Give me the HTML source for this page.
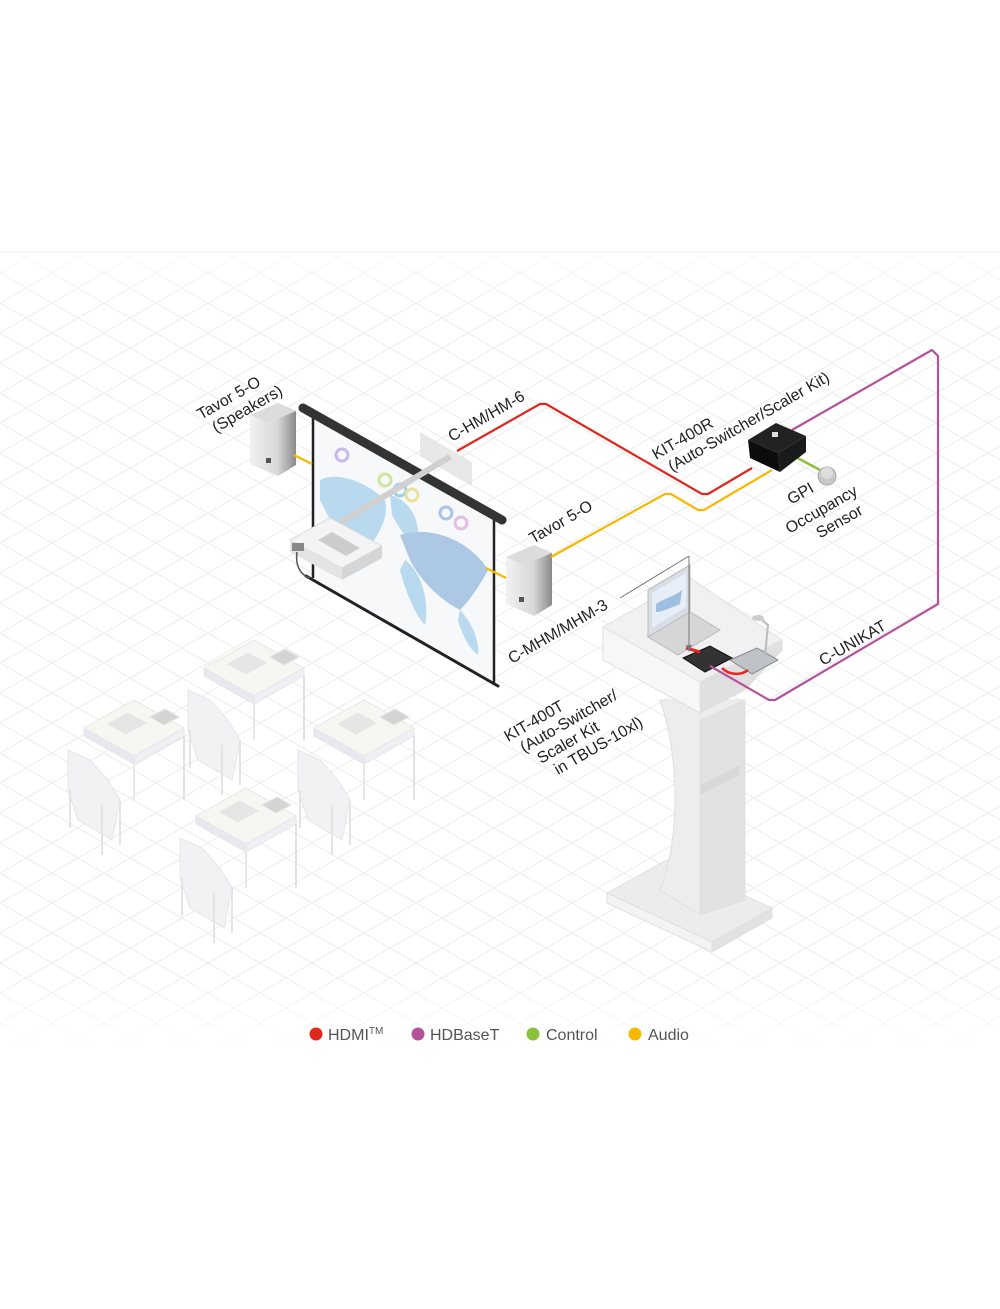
<!DOCTYPE html>
<html><head><meta charset="utf-8"><style>
html,body{margin:0;padding:0;background:#fff;}
svg{display:block;font-family:"Liberation Sans","DejaVu Sans",sans-serif;}
.lb{font-size:16px;fill:#222;}
</style></head><body>
<svg width="1000" height="1309" viewBox="0 0 1000 1309" xmlns="http://www.w3.org/2000/svg">
<defs>
<pattern id="g" patternUnits="userSpaceOnUse" width="52" height="30" x="0" y="3">
<path d="M0 0 L52 30 M0 30 L52 0" stroke="#ececec" stroke-width="1" fill="none"/>
</pattern>
<linearGradient id="fv" x1="0" y1="0" x2="0" y2="1">
<stop offset="0" stop-color="#fff" stop-opacity="0.3"/>
<stop offset="0.08" stop-color="#fff" stop-opacity="1"/>
<stop offset="0.88" stop-color="#fff" stop-opacity="1"/>
<stop offset="1" stop-color="#fff" stop-opacity="0"/>
</linearGradient>
<mask id="m"><rect x="0" y="252" width="1000" height="808" fill="url(#fv)"/></mask>
<linearGradient id="spk" x1="0" y1="0" x2="1" y2="0">
<stop offset="0" stop-color="#f2f2f2"/><stop offset="0.6" stop-color="#d8d8d8"/><stop offset="1" stop-color="#8a8a8a"/>
</linearGradient>
</defs>
<rect x="0" y="252" width="1000" height="808" fill="url(#g)" mask="url(#m)"/>
<line x1="0" y1="252" x2="1000" y2="252" stroke="#f0f0f0"/>

<!-- desks (very light) -->
<g fill="#f6f6f3" stroke="#e6e6e6" stroke-width="1">
<g id="desk">
<polygon points="204,668 254,640 304,668 254,696"/>
<polygon points="204,668 254,696 254,704 204,676" fill="#e8e8f0"/>
<polygon points="254,696 304,668 304,676 254,704" fill="#efeff4"/>
<polygon points="228,664 248,653 266,663 246,674" fill="#e6e6e6"/>
<polygon points="270,657 285,649 299,657 284,665" fill="#d4d4d4"/>
<line x1="304" y1="676" x2="304" y2="740" stroke="#e2e2e2" stroke-width="2"/>
<line x1="254" y1="704" x2="254" y2="740" stroke="#e8e8e8" stroke-width="2"/>
<path d="M188 690 L210 700 L228 720 L240 740 L232 780 L198 760 L188 730 Z" fill="#f2f2f4"/>
<line x1="190" y1="730" x2="190" y2="768" stroke="#e4e4e4" stroke-width="2"/>
<line x1="222" y1="745" x2="222" y2="795" stroke="#e4e4e4" stroke-width="2"/>
<line x1="240" y1="740" x2="240" y2="785" stroke="#e4e4e4" stroke-width="2"/>
</g>
<use href="#desk" x="-120" y="60"/>
<use href="#desk" x="110" y="60"/>
<use href="#desk" x="-8" y="148"/>
</g>

<!-- screen -->
<polygon points="313,413 494,520 494,685 313,578" fill="#f7f8fa"/>
<g fill="#aed4ec" opacity="0.85">
<path d="M320 480 C340 470 370 485 385 500 C390 520 375 540 360 560 C345 550 330 520 320 500 Z"/>
<path d="M390 495 C410 500 420 520 418 540 C410 545 400 530 392 515 Z"/>
<path d="M400 535 C430 525 470 540 488 570 C480 585 470 600 460 610 C440 600 420 580 410 560 Z" fill="#9fc0e2"/>
<path d="M405 560 C420 570 430 600 425 625 C415 615 405 590 400 570 Z"/>
<path d="M460 610 C470 620 480 640 478 655 C470 650 462 635 458 620 Z"/>
</g>
<g fill="none" stroke-width="3">
<circle cx="342" cy="455" r="6" stroke="#c9b9ea"/>
<circle cx="385" cy="480" r="6" stroke="#cfe5a0"/>
<circle cx="400" cy="490" r="6" stroke="#9fd0e6"/>
<circle cx="412" cy="495" r="6" stroke="#e6e2a0"/>
<circle cx="446" cy="513" r="6" stroke="#a9c4ec"/>
<circle cx="461" cy="523" r="6" stroke="#e2c0e6"/>
</g>
<path d="M313 413 L313 578 M494 520 L494 685" stroke="#222" stroke-width="2.5"/>
<line x1="303" y1="408" x2="502" y2="520" stroke="#333" stroke-width="9" stroke-linecap="round"/>
<line x1="306" y1="576" x2="498" y2="686" stroke="#222" stroke-width="3" stroke-linecap="round"/>
<polygon points="420,432 472,462 472,486 420,456" fill="#e6e6e6" opacity="0.9"/>
<line x1="328" y1="530" x2="448" y2="458" stroke="#d0d0d0" stroke-width="6" stroke-linecap="round"/>
<polygon points="290,540 330,518 382,546 342,568" fill="#f4f4f4" stroke="#ddd"/>
<polygon points="290,540 342,568 342,580 290,552" fill="#e4e4e4"/>
<polygon points="342,568 382,546 382,558 342,580" fill="#d6d6d6"/>
<polygon points="318,540 332,532 360,548 346,556" fill="#ccc"/>
<rect x="292" y="543" width="12" height="8" fill="#888"/>
<path d="M297 552 C295 565 300 575 310 578" stroke="#555" fill="none" stroke-width="1.5"/>
<polygon points="250,415 278,403 296,411 296,465 278,476 250,464" fill="url(#spk)"/>
<polygon points="250,415 278,403 296,411 268,423" fill="#dcdcdc"/>
<polygon points="506,557 534,545 552,553 552,605 534,616 506,604" fill="url(#spk)"/>
<polygon points="506,557 534,545 552,553 524,565" fill="#dcdcdc"/>
<rect x="266" y="458" width="5" height="5" fill="#555"/><rect x="519" y="597" width="5" height="5" fill="#555"/>

<!-- lectern -->
<g stroke="#e0e0e0" stroke-width="1">
<polygon points="607,893 667,860 772,908 712,942" fill="#ececec"/>
<polygon points="607,893 712,942 712,952 607,903" fill="#f3f3f3"/>
<polygon points="712,942 772,908 772,918 712,952" fill="#e2e2e2"/>
<path d="M660 700 C680 760 680 840 660 890 L700 915 C700 860 705 780 745 720 L745 700 Z" fill="#ededed"/>
<path d="M700 720 L745 700 L745 900 L700 915 Z" fill="#e2e2e2"/>
<polygon points="700,785 740,765 740,775 700,795" fill="#d8d8d8"/>
<polygon points="603,627 690,578 782,640 700,682" fill="#f1f1f1"/>
<polygon points="603,627 700,682 700,713 603,660" fill="#f7f7f7"/>
<polygon points="700,682 782,640 782,650 745,690 700,713" fill="#e0e0e0"/>
</g>
<polygon points="648,590 690,565 690,612 648,637" fill="#d8dde6" stroke="#bbb"/>
<polygon points="652,593 686,573 686,607 652,628" fill="#e7eef7"/>
<path d="M656 604 C665 598 675 596 682 590 L680 604 C670 608 662 612 656 612Z" fill="#9cc0e2"/>
<polygon points="648,637 690,612 720,630 678,655" fill="#d6d6d6" stroke="#bbb"/>
<polygon points="683,658 710,646 732,658 705,672" fill="#333" stroke="#111"/>
<polygon points="730,660 757,648 778,660 752,674" fill="#bfc3c8" stroke="#888"/>
<path d="M765 655 L768 625 L760 618" stroke="#bbb" stroke-width="2" fill="none"/>
<ellipse cx="758" cy="618" rx="6" ry="3" fill="#ccc"/>
<path d="M686 648 L700 652" stroke="#e22" stroke-width="3"/>
<path d="M722 668 C730 676 742 675 748 670" stroke="#e22" stroke-width="2.5" fill="none"/>
<path d="M689 556 L689 648 M620 598 L689 556" stroke="#777" stroke-width="1" fill="none"/>
<polygon points="686,645 692,645 689,652" fill="#777"/>

<!-- cables -->
<g fill="none" stroke-width="2.2" stroke-linejoin="round">
<path d="M457 451 L540 404 L546 404 L702 494 L708 494 L752 468" stroke="#e0281e"/>
<path d="M294 455 L312 464" stroke="#f6b900"/>
<path d="M486 568 L506 578" stroke="#f6b900"/>
<path d="M551 557 L665 494 L671 494 L698 510 L704 510 L772 470" stroke="#f6b900"/>
<path d="M792 455 L820 470" stroke="#8dc03c" stroke-width="2.5"/>
<path d="M792 430 L932 350 L938 356 L938 604 L775 700 L769 700 L710 666" stroke="#b5539a"/>
</g>
<polygon points="748,440 776,423 806,436 778,453" fill="#222"/>
<polygon points="748,440 778,453 780,472 750,458" fill="#0c0c0c"/>
<polygon points="778,453 806,436 806,452 780,472" fill="#1a1a1a"/>
<rect x="772" y="432" width="6" height="5" fill="#ddd"/>
<circle cx="827" cy="476" r="9" fill="#c8c8c8" stroke="#aaa"/>
<circle cx="827" cy="473" r="6" fill="#ddd"/>

<g class="lb">
<text transform="translate(201,420) rotate(-30)">Tavor 5-O</text>
<text transform="translate(216,433) rotate(-30)">(Speakers)</text>
<text transform="translate(452,442) rotate(-30)">C-HM/HM-6</text>
<text transform="translate(656,460) rotate(-30)">KIT-400R</text>
<text transform="translate(672,472) rotate(-30)">(Auto-Switcher/Scaler Kit)</text>
<text transform="translate(533,544) rotate(-30)">Tavor 5-O</text>
<text transform="translate(803,498) rotate(-30)" text-anchor="middle">GPI</text>
<text transform="translate(824,514) rotate(-30)" text-anchor="middle">Occupancy</text>
<text transform="translate(842,526) rotate(-30)" text-anchor="middle">Sensor</text>
<text transform="translate(512,664) rotate(-30)">C-MHM/MHM-3</text>
<text transform="translate(823,666) rotate(-30)">C-UNIKAT</text>
<text transform="translate(508,742) rotate(-30)">KIT-400T</text>
<text transform="translate(524,753) rotate(-30)">(Auto-Switcher/</text>
<text transform="translate(541,764) rotate(-30)">Scaler Kit</text>
<text transform="translate(558,775) rotate(-30)">in TBUS-10xl)</text>
</g>

<g font-size="16" fill="#555">
<circle cx="316" cy="1034" r="6.5" fill="#e0281e"/><text x="328" y="1040">HDMI<tspan font-size="10" dy="-6">TM</tspan></text>
<circle cx="418" cy="1034" r="6.5" fill="#b5539a"/><text x="430" y="1040">HDBaseT</text>
<circle cx="533" cy="1034" r="6.5" fill="#8dc03c"/><text x="546" y="1040">Control</text>
<circle cx="635" cy="1034" r="6.5" fill="#f6b900"/><text x="648" y="1040">Audio</text>
</g>
</svg>
</body></html>
